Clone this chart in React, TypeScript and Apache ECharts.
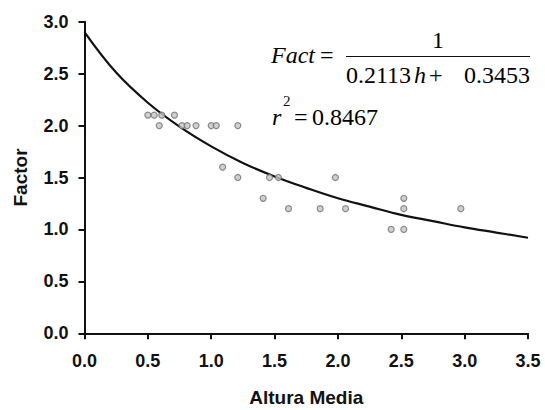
import React, { useEffect, useRef } from "react";
import * as echarts from "echarts";

// Measured points (Altura Media, Factor)
const alturaMedia = [0.5, 0.55, 0.61, 0.71, 0.59, 0.77, 0.81, 0.88, 1.0, 1.04, 1.21, 1.09, 1.21, 1.46, 1.53, 1.98, 1.41, 2.52, 1.61, 1.86, 2.06, 2.52, 2.97, 2.42, 2.52];
const factor = [2.1, 2.1, 2.1, 2.1, 2.0, 2.0, 2.0, 2.0, 2.0, 2.0, 2.0, 1.6, 1.5, 1.5, 1.5, 1.5, 1.3, 1.3, 1.2, 1.2, 1.2, 1.2, 1.2, 1.0, 1.0];

// Fitted curve
const curveH = [0, 0.25, 0.5, 0.75, 1.0, 1.25, 1.5, 1.75, 2.0, 2.25, 2.5, 2.75, 3.0, 3.25, 3.5];
const curveFact = [2.9, 2.51, 2.22, 1.99, 1.8, 1.64, 1.51, 1.4, 1.3, 1.22, 1.14, 1.08, 1.02, 0.97, 0.92];

const xTicks = [0, 0.5, 1, 1.5, 2, 2.5, 3, 3.5];
const yTicks = [0, 0.5, 1, 1.5, 2, 2.5, 3];

const coefA = "0.2113";
const coefB = "0.3453";
const r2 = "0.8467";

export default function App() {
  const ref = useRef<HTMLDivElement>(null);
  useEffect(() => {
    if (!ref.current) return;
    const chart = echarts.init(ref.current, undefined, { renderer: "svg" });
    const serif = "Liberation Serif";
    const sans = "Liberation Sans";
    const eqSize = 24;
    const rich = {
      n: { fontFamily: serif, fontSize: eqSize, fontStyle: "normal", color: "#111" },
      i: { fontFamily: serif, fontSize: eqSize, fontStyle: "italic", color: "#111" },
      s: { width: 3, fontSize: eqSize },
    };
    chart.setOption({
      animation: false,
      backgroundColor: "#ffffff",
      grid: { left: 84.5, right: 17, top: 21.7, bottom: 76.7, containLabel: false, outerBoundsMode: "none" },
      xAxis: {
        type: "value",
        min: xTicks[0],
        max: xTicks[xTicks.length - 1],
        interval: 0.5,
        name: "Altura Media",
        nameLocation: "middle",
        nameGap: 55,
        nameTextStyle: { fontFamily: sans, fontWeight: "bold", fontSize: 19, color: "#111" },
        axisLine: { show: true, onZero: false, lineStyle: { color: "#111", width: 2 } },
        axisTick: { show: true, inside: false, length: 6, lineStyle: { color: "#111", width: 2 } },
        axisLabel: {
          margin: 19,
          fontFamily: sans,
          fontWeight: "bold",
          fontSize: 18,
          color: "#111",
          formatter: (v: number) => v.toFixed(1),
        },
        splitLine: { show: false },
      },
      yAxis: {
        type: "value",
        min: yTicks[0],
        max: yTicks[yTicks.length - 1],
        interval: 0.5,
        name: "Factor",
        nameLocation: "middle",
        nameGap: 55,
        nameRotate: 90,
        nameTextStyle: { fontFamily: sans, fontWeight: "bold", fontSize: 19, color: "#111" },
        axisLine: { show: true, onZero: false, lineStyle: { color: "#111", width: 2 } },
        axisTick: { show: true, inside: false, length: 6, lineStyle: { color: "#111", width: 2 } },
        axisLabel: {
          margin: 16,
          fontFamily: sans,
          fontWeight: "bold",
          fontSize: 18,
          color: "#111",
          formatter: (v: number) => v.toFixed(1),
        },
        splitLine: { show: false },
      },
      series: [
        {
          type: "line",
          data: curveH.map((h, i) => [h, curveFact[i]]),
          smooth: 0.4,
          showSymbol: false,
          symbol: "none",
          lineStyle: { color: "#111", width: 2.2 },
          z: 2,
        },
        {
          type: "scatter",
          data: alturaMedia.map((h, i) => [h, factor[i]]),
          symbol: "circle",
          symbolSize: 6,
          itemStyle: { color: "#c4c4c4", borderColor: "#707070", borderWidth: 1.2 },
          z: 3,
        },
      ],
      graphic: [
        { type: "text", x: 271, y: 55, style: { text: "{i|Fact}", rich, verticalAlign: "middle", align: "left" } },
        { type: "text", x: 320, y: 55, style: { text: "{n|=}", rich, verticalAlign: "middle", align: "left" } },
        { type: "text", x: 438, y: 40, style: { text: "{n|1}", rich, verticalAlign: "middle", align: "center" } },
        { type: "line", shape: { x1: 346, y1: 56.5, x2: 530, y2: 56.5 }, style: { stroke: "#111", lineWidth: 1.2 } },
        { type: "text", x: 346, y: 75, style: { text: `{n|${coefA}}{s|}{i|h}`, rich, verticalAlign: "middle", align: "left" } },
        { type: "text", x: 429, y: 75, style: { text: "{n|+}", rich, verticalAlign: "middle", align: "left" } },
        { type: "text", x: 530, y: 75, style: { text: `{n|${coefB}}`, rich, verticalAlign: "middle", align: "right" } },
        { type: "text", x: 272, y: 117, style: { text: "{i|r}", rich, verticalAlign: "middle", align: "left" } },
        { type: "text", x: 283, y: 101, style: { text: "2", fontFamily: serif, fontSize: 15, fill: "#111", verticalAlign: "middle", align: "left" } },
        { type: "text", x: 294, y: 117, style: { text: "{n|=}", rich, verticalAlign: "middle", align: "left" } },
        { type: "text", x: 312, y: 117, style: { text: `{n|${r2}}`, rich, verticalAlign: "middle", align: "left" } },
      ],
    });
    return () => chart.dispose();
  }, []);
  return (
    <div
      ref={ref}
      style={{ position: "fixed", left: 0, top: 0, width: 545, height: 410, background: "#fff" }}
    />
  );
}
